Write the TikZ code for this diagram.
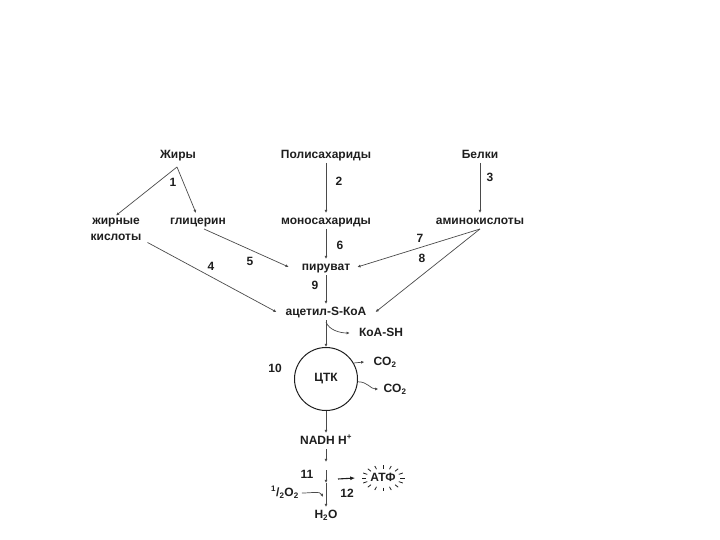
\documentclass[tikz,border=0pt]{standalone}
\usepackage{fontspec}
\setmainfont{Liberation Sans}
\usepackage{xcolor}
\usepackage{tikz}
\usetikzlibrary{calc,positioning,arrows.meta}
\definecolor{ink}{HTML}{1E1E1E}
\definecolor{wire}{HTML}{4A4A4A}
\newcommand{\Lbl}{\fontsize{12}{16}\selectfont\bfseries}

\begin{document}
\begin{tikzpicture}[x=1pt,y=-1pt, font=\Lbl,
    lbl/.style={text=ink, inner xsep=9pt, inner ysep=2pt, text height=9pt, text depth=2.6pt},
    lbltwo/.style={text=ink, inner xsep=9pt, inner ysep=2pt, align=center},
    num/.style={text=ink, font=\Lbl, inner sep=1pt},
    arr/.style={wire, line width=0.7pt, -{Latex[length=3.2pt,width=3pt]}},
    arrbig/.style={ink, line width=1.1pt, -{Latex[length=5pt,width=4pt]}},
    ray/.style={ink, line width=0.8pt}]
  \useasboundingbox (0,0) rectangle (720,540);
  % sources and products
  \node[lbl] (zhiry) at (178,155){Жиры};
  \node[lbl] (poly) at (326,155){Полисахариды};
  \node[lbl] (belki) at (480,155){Белки};
  \node[lbltwo] (kisl) at (116,229){жирные\\кислоты};
  \node[lbl] (glic) at (198,221){глицерин};
  \node[lbl] (mono) at (326,221){моносахариды};
  \node[lbl] (amino) at (480,221){аминокислоты};
  \node[lbl] (piruv) at (326,267){пируват};
  \node[lbl] (acet) at (326,312){ацетил-S-КоА};
  \node[lbl] (koash) at (381,333){КоА-SH};
  \node[circle, draw=ink, line width=1pt, minimum size=63pt, text=ink, inner sep=0pt] (ctk) at (326,379){ЦТК};
  \node[lbl] (co2a) at (385,362){CO\textsubscript{2}};
  \node[lbl] (co2b) at (395,389){CO\textsubscript{2}};
  \node[lbl] (nadh) at (326,441){NADH H\textsuperscript{+}};
  \node[lbl, inner xsep=15pt] (atf) at (383,478){АТФ};
  \node[lbl, inner xsep=3pt] (half) at (285,493){\textsuperscript{1}/\textsubscript{2}O\textsubscript{2}};
  \node[lbl] (water) at (326,515){H\textsubscript{2}O};
  \foreach \nm/\px/\py in {1/173/182, 2/339/181, 3/490/177, 4/211/266, 5/250/261, 6/340/245,
      7/420/238, 8/422/258, 9/315/285, 10/275/368, 11/307/474, 12/347/493}{
    \node[num] (lab\nm) at (\px,\py){\nm};}
  \coordinate (fork) at (177,167);
  \coordinate (kbr) at (326,322);
  \coordinate (nend) at (326,462);
  \coordinate (ntop) at (326,470);
  \coordinate (nlow) at (326,483);
  \coordinate (ojoin) at (323,497);
  \coordinate (catp) at (338,479);
  % connectors
  \draw[arr] (fork) -- (kisl.north);
  \draw[arr] (fork) -- ([xshift=-2pt]glic.north);
  \draw[arr] (poly.south) -- (mono.north);
  \draw[arr] (belki.south) -- (amino.north);
  \draw[arr] (mono.south) -- (piruv.north);
  \draw[arr] ([xshift=6pt]glic.south) -- ([xshift=-4pt]piruv.west);
  \draw[arr] ([xshift=-3pt]kisl.south east) -- (acet.west);
  \draw[arr] (amino.south) -- ([xshift=-2pt]piruv.east);
  \draw[arr] (amino.south) -- (acet.east);
  \draw[arr] (piruv.south) -- (acet.north);
  \draw[arr] (acet.south) -- (ctk.north);
  \draw[arr] (kbr) .. controls +(3,8) and +(-10,0) .. (koash.west);
  \draw[arr] (ctk.30) -- (co2a.west);
  \draw[arr] (ctk.-5) .. controls +(10,0) and +(-8,0) .. ([xshift=4pt]co2b.west);
  \draw[arr] (ctk.south) -- (nadh.north);
  \draw[arr] (nadh.south) -- (nend);
  \draw[arr] (ntop) -- (nlow);
  \draw[arr] (nlow) -- (water.north);
  \draw[arr] (half.east) .. controls +(10,0) and +(-3,-6) .. (ojoin);
  \draw[arrbig] (catp) -- (atf.west);
  \foreach \a in {0,22.5,...,337.5}{
    \draw[ray] (atf.center) ++(\a:17 and 9.5) -- ++(\a:4.5 and 3.5);}
\end{tikzpicture}
\end{document}
